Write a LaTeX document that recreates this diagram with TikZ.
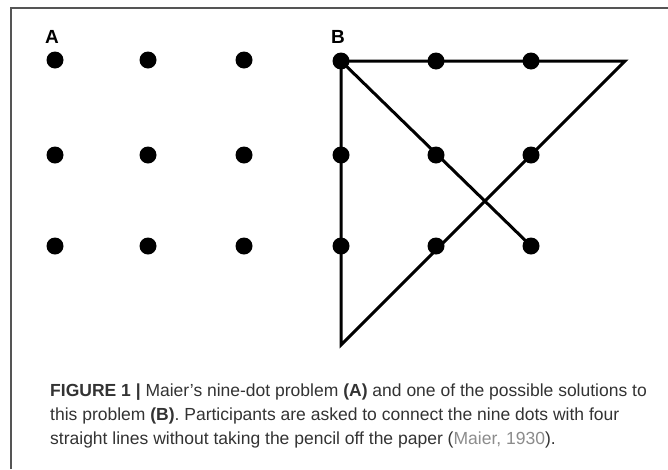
\documentclass[tikz,border=0pt]{standalone}
\usepackage{fontspec}
\setmainfont{Liberation Sans}
\definecolor{captxt}{HTML}{333333}
\definecolor{citegray}{HTML}{8C8C8C}
\definecolor{framegray}{HTML}{555555}
\begin{document}
\begin{tikzpicture}[x=1pt,y=-1pt,
  dot/.style={circle,fill=black,inner sep=0pt,minimum size=17pt},
  seg/.style={line width=3pt,line join=miter},
  panel/.style={font=\fontsize{19}{19}\selectfont\bfseries,anchor=base west,inner sep=0pt},
  capline/.style={font=\fontsize{17.5}{17.5}\selectfont,text=captxt,anchor=base west,inner sep=0pt}]
\useasboundingbox (0,0) rectangle (668,469);
\fill[white] (0,0) rectangle (668,469);
\draw[framegray,line width=1.3pt] (11,469) -- (11,8) -- (668,8);
% panel labels
\node[panel] (lA) at (45,43) {A};
\node[panel] (lB) at (331,43) {B};
% panel A dots
\foreach \i/\x in {1/55,2/148,3/244}{
  \foreach \j/\y in {1/60,2/155,3/246}{
    \node[dot] (a\i\j) at (\x,\y) {};
  }
}
% panel B corner points
\coordinate (tr) at (625,61);
\coordinate (bl) at (341,345);
\coordinate (b11c) at (341,61);
\coordinate (b33c) at (531,246);
% panel B lines
\draw[seg] (b33c) -- (b11c) -- (tr) -- (bl) -- (b11c);
% panel B dots
\foreach \i/\x in {1/341,2/436,3/531}{
  \foreach \j/\y in {1/61,2/155,3/246}{
    \node[dot] (b\i\j) at (\x,\y) {};
  }
}
% caption
\node[capline] (c1) at (50,396) {\textbf{FIGURE 1 |} Maier’s nine-dot problem \textbf{(A)} and one of the possible solutions to};
\node[capline] (c2) at (50,420) {this problem \textbf{(B)}. Participants are asked to connect the nine dots with four};
\node[capline] (c3) at (50,444) {straight lines without taking the pencil off the paper (\textcolor{citegray}{Maier, 1930}).};
\end{tikzpicture}
\end{document}
